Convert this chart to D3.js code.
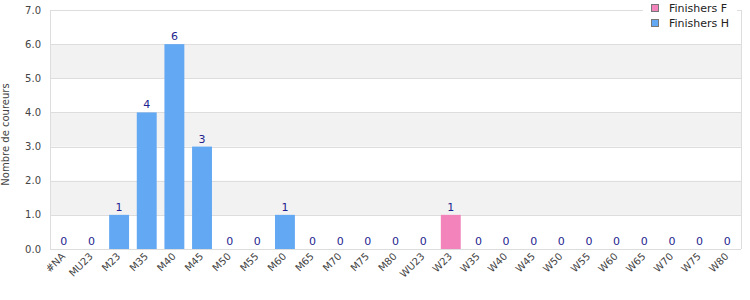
<!DOCTYPE html>
<html>
<head>
<meta charset="utf-8">
<script src="https://cdn.jsdelivr.net/npm/d3@7/dist/d3.min.js"></script>
<style>
  html, body { margin: 0; padding: 0; background: #fff; }
  svg { display: block; font-family: "DejaVu Sans", Verdana, sans-serif; }
</style>
</head>
<body>
<svg id="chart" width="750" height="300"></svg>
<script>
const categories = ["#NA","MU23","M23","M35","M40","M45","M50","M55","M60","M65","M70","M75","M80","WU23","W23","W35","W40","W45","W50","W55","W60","W65","W70","W75","W80"];
const finishersH = [0,0,1,4,6,3,0,0,1,0,0,0,0,null,null,null,null,null,null,null,null,null,null,null,null];
const finishersF = [null,null,null,null,null,null,null,null,null,null,null,null,null,0,1,0,0,0,0,0,0,0,0,0,0];
const yTicks = [0,1,2,3,4,5,6,7];
const seriesNames = ["Finishers F", "Finishers H"];
const seriesColors = ["#f383bb", "#62a8f3"];

const svg = d3.select("#chart");
const m = {left: 50, right: 9, top: 10, bottom: 51};
const W = 750, H = 300;
const x = d3.scaleBand().domain(categories).range([m.left, W - m.right]).paddingInner(0.28).paddingOuter(0.14);
const y = d3.scaleLinear().domain([0, 7]).range([H - m.bottom, m.top]);

// alternating bands
for (let i = 0; i < yTicks.length - 1; i++) {
  if (i % 2 === 1) {
    svg.append("rect")
      .attr("x", m.left).attr("width", W - m.right - m.left)
      .attr("y", y(yTicks[i + 1])).attr("height", y(yTicks[i]) - y(yTicks[i + 1]))
      .attr("fill", "#f2f2f2");
  }
}
// grid lines
svg.append("g").selectAll("line").data(yTicks).join("line")
  .attr("x1", m.left).attr("x2", W - m.right)
  .attr("y1", d => Math.round(y(d)) + 0.5).attr("y2", d => Math.round(y(d)) + 0.5)
  .attr("stroke", "#dddddd").attr("stroke-width", 1);
// border left/right
svg.append("line").attr("x1", m.left + 0.5).attr("x2", m.left + 0.5).attr("y1", y(7)).attr("y2", y(0)).attr("stroke", "#dddddd");
svg.append("line").attr("x1", W - m.right + 0.5).attr("x2", W - m.right + 0.5).attr("y1", y(7)).attr("y2", y(0)).attr("stroke", "#dddddd");

// y tick labels
svg.append("g").selectAll("text").data(yTicks).join("text")
  .attr("x", 41).attr("y", d => y(d)).attr("dy", "0.35em")
  .attr("text-anchor", "end").attr("font-size", 10).attr("fill", "#444")
  .text(d => d.toFixed(1));

// y axis title
svg.append("text")
  .attr("transform", `translate(9, ${(y(0) + y(7)) / 2 + 5}) rotate(-90)`)
  .attr("text-anchor", "middle").attr("font-size", 10).attr("fill", "#444")
  .text("Nombre de coureurs");

// x labels
svg.append("g").selectAll("text").data(categories).join("text")
  .attr("transform", d => `translate(${x(d) + x.bandwidth() / 2 + 2}, 257) rotate(-45)`)
  .attr("text-anchor", "end").attr("font-size", 10).attr("fill", "#444")
  .text(d => d);

// bars
const series = [finishersF, finishersH];
series.forEach((vals, si) => {
  const data = categories.map((c, i) => ({c, v: vals[i]})).filter(d => d.v !== null);
  svg.append("g").selectAll("rect").data(data.filter(d => d.v > 0)).join("rect")
    .attr("x", d => x(d.c)).attr("width", x.bandwidth())
    .attr("y", d => y(d.v)).attr("height", d => y(0) - y(d.v))
    .attr("fill", seriesColors[si]);
  svg.append("g").selectAll("text").data(data).join("text")
    .attr("x", d => x(d.c) + x.bandwidth() / 2).attr("y", d => y(d.v) - 4)
    .attr("text-anchor", "middle").attr("font-size", 11).attr("fill", "#1f1f8f")
    .text(d => d.v);
});

// legend
const lg = svg.append("g");
lg.append("rect").attr("x", 643).attr("y", 0).attr("width", 94).attr("height", 32).attr("fill", "#fff");
seriesNames.forEach((name, i) => {
  lg.append("rect").attr("x", 651.5).attr("y", 4.5 + i * 15).attr("width", 7).attr("height", 7)
    .attr("fill", seriesColors[i]).attr("stroke", "#777").attr("stroke-width", 1);
  lg.append("text").attr("x", 669).attr("y", 12 + i * 15)
    .attr("font-size", 11).attr("fill", "#222").text(name);
});
</script>
</body>
</html>
